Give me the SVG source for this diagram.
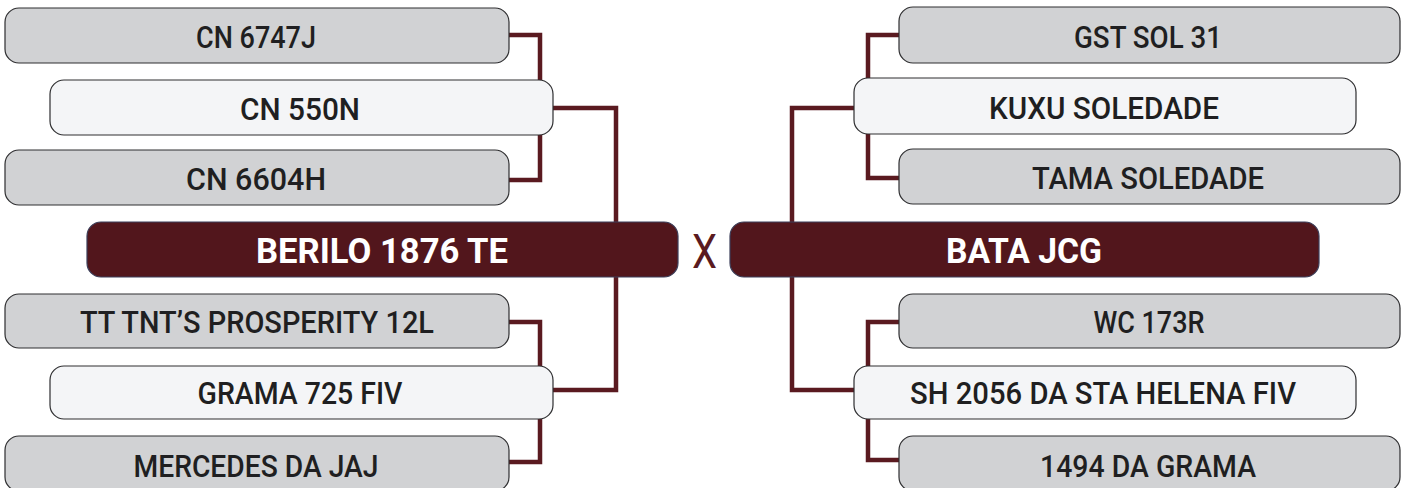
<svg xmlns="http://www.w3.org/2000/svg" width="1410" height="488" viewBox="0 0 1410 488">
<defs>
<style>
.bg{fill:#ffffff}
.gray{fill:#d1d2d4;stroke:#2e2e30;stroke-width:1.2}
.light{fill:#f4f5f7;stroke:#2e2e30;stroke-width:1.2}
.dark{fill:#52161c;stroke:#3c3f5a;stroke-width:1.2}
.conn{fill:none;stroke:#5a1a20;stroke-width:4.5;stroke-linejoin:miter;stroke-linecap:butt}
.t{font-family:Roboto,"Liberation Sans",sans-serif;font-weight:500;font-size:31px;fill:#1f1f21;text-anchor:middle}
.tb{font-family:Roboto,"Liberation Sans",sans-serif;font-weight:700;font-size:35px;fill:#ffffff;text-anchor:middle}
.x{font-family:Roboto,"Liberation Sans",sans-serif;font-weight:400;font-size:49px;fill:#5a1a20;text-anchor:middle}
</style>
<linearGradient id="bgg" x1="0" y1="0" x2="1" y2="1">
<stop offset="0" stop-color="#f3f3f4"/>
<stop offset="0.35" stop-color="#ffffff"/>
<stop offset="0.65" stop-color="#ffffff"/>
<stop offset="1" stop-color="#f2f2f3"/>
</linearGradient>
</defs>
<rect class="bg" x="0" y="0" width="1410" height="488" fill="url(#bgg)"/>
<g id="connectors">
<path class="conn" d="M509,35 H540 V80"/>
<path class="conn" d="M540,135 V180 H509"/>
<path class="conn" d="M553,108 H616 V222"/>
<path class="conn" d="M616,277 V390 H553"/>
<path class="conn" d="M509,322 H540 V366"/>
<path class="conn" d="M540,419 V462 H509"/>
<path class="conn" d="M899,35 H868 V78"/>
<path class="conn" d="M868,134 V178 H899"/>
<path class="conn" d="M854,108 H792 V222"/>
<path class="conn" d="M792,277 V390 H854"/>
<path class="conn" d="M899,322 H868 V366"/>
<path class="conn" d="M868,419 V460 H899"/>
</g>
<g id="n-cn6747j"><rect class="gray" x="5" y="8" width="504" height="55" rx="14"/><text class="t" x="256" y="48" textLength="120" lengthAdjust="spacingAndGlyphs">CN 6747J</text></g>
<g id="n-cn550n"><rect class="light" x="50" y="80" width="503" height="55" rx="14"/><text class="t" x="300" y="120" textLength="120" lengthAdjust="spacingAndGlyphs">CN 550N</text></g>
<g id="n-cn6604h"><rect class="gray" x="5" y="150" width="504" height="55" rx="14"/><text class="t" x="256" y="190" textLength="140" lengthAdjust="spacingAndGlyphs">CN 6604H</text></g>
<g id="n-berilo"><rect class="dark" x="87" y="222" width="591" height="55" rx="14"/><text class="tb" x="382" y="263" textLength="252" lengthAdjust="spacingAndGlyphs">BERILO 1876 TE</text></g>
<g id="n-tttnt"><rect class="gray" x="5" y="294" width="504" height="54" rx="14"/><text class="t" x="257" y="333" textLength="354" lengthAdjust="spacingAndGlyphs">TT TNT’S PROSPERITY 12L</text></g>
<g id="n-grama725"><rect class="light" x="50" y="366" width="503" height="53" rx="14"/><text class="t" x="300" y="404" textLength="205" lengthAdjust="spacingAndGlyphs">GRAMA 725 FIV</text></g>
<g id="n-mercedes"><rect class="gray" x="5" y="436" width="504" height="55" rx="14"/><text class="t" x="256" y="477" textLength="245" lengthAdjust="spacingAndGlyphs">MERCEDES DA JAJ</text></g>
<g id="vs"><text class="x" x="704.5" y="268" textLength="25" lengthAdjust="spacingAndGlyphs">X</text></g>
<g id="n-gstsol31"><rect class="gray" x="899" y="7" width="501" height="56" rx="14"/><text class="t" x="1148" y="48" textLength="148" lengthAdjust="spacingAndGlyphs">GST SOL 31</text></g>
<g id="n-kuxu"><rect class="light" x="854" y="78" width="502" height="56" rx="14"/><text class="t" x="1104" y="119" textLength="230" lengthAdjust="spacingAndGlyphs">KUXU SOLEDADE</text></g>
<g id="n-tama"><rect class="gray" x="899" y="149" width="501" height="55" rx="14"/><text class="t" x="1148" y="189" textLength="232" lengthAdjust="spacingAndGlyphs">TAMA SOLEDADE</text></g>
<g id="n-bata"><rect class="dark" x="730" y="222" width="589" height="55" rx="14"/><text class="tb" x="1024" y="263" textLength="156" lengthAdjust="spacingAndGlyphs">BATA JCG</text></g>
<g id="n-wc173r"><rect class="gray" x="899" y="294" width="501" height="54" rx="14"/><text class="t" x="1149" y="333" textLength="111" lengthAdjust="spacingAndGlyphs">WC 173R</text></g>
<g id="n-sh2056"><rect class="light" x="854" y="366" width="502" height="53" rx="14"/><text class="t" x="1103" y="404" textLength="386" lengthAdjust="spacingAndGlyphs">SH 2056 DA STA HELENA FIV</text></g>
<g id="n-1494"><rect class="gray" x="899" y="436" width="501" height="55" rx="14"/><text class="t" x="1148" y="477" textLength="216" lengthAdjust="spacingAndGlyphs">1494 DA GRAMA</text></g>
</svg>
